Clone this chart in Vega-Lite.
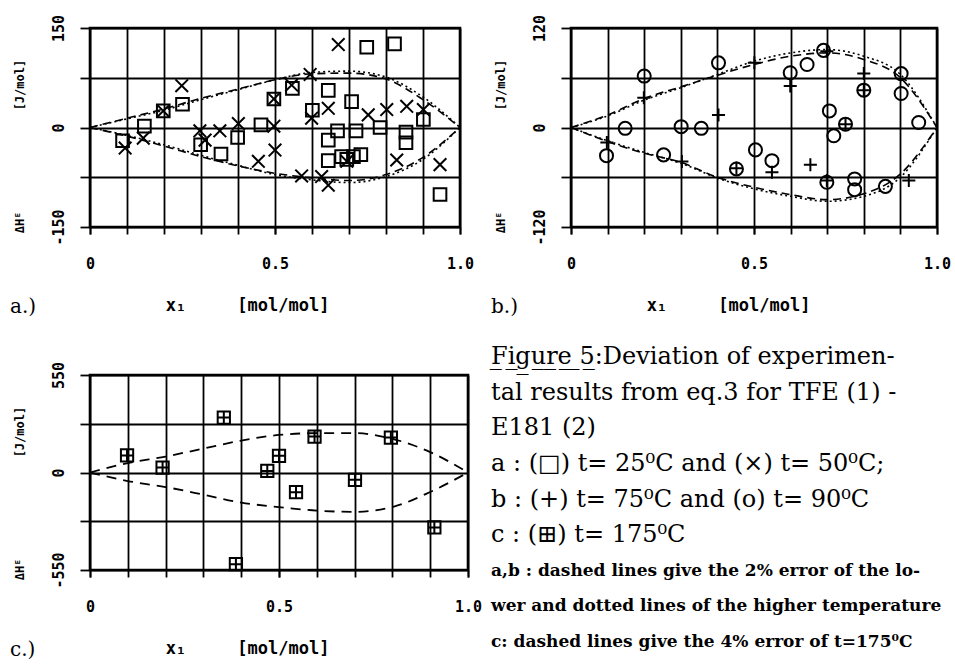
{
  "$schema": "https://vega.github.io/schema/vega-lite/v6.json",
  "background": "white",
  "padding": {"left": 8, "top": 13, "right": 0, "bottom": 0},
  "bounds": "full",
  "spacing": 26,
  "config": {
    "view": {"stroke": "black", "strokeWidth": 2.6},
    "axis": {
      "domain": false,
      "grid": true,
      "gridColor": "black",
      "gridWidth": 1.8,
      "gridOpacity": 1,
      "tickColor": "black",
      "tickWidth": 1.8,
      "labelOverlap": false,
      "labelFlush": false,
      "labelFont": "DejaVu Sans Mono",
      "labelFontWeight": "bold",
      "labelFontSize": 15,
      "labelColor": "black",
      "titleFont": "DejaVu Sans Mono",
      "titleFontWeight": "bold",
      "titleColor": "black"
    },
    "axisX": {
      "tickSize": 7,
      "labelAngle": 0,
      "labelBaseline": "middle",
      "labelPadding": 29,
      "titleFontSize": 17,
      "titleX": 157,
      "titleY": 78,
      "titleAlign": "center",
      "titleBaseline": "middle"
    },
    "axisY": {
      "tickSize": 10,
      "labelAngle": 270,
      "labelAlign": "center",
      "labelBaseline": "alphabetic",
      "labelPadding": 17,
      "titleFontSize": 12,
      "titleX": -71,
      "titleY": 118,
      "titleAngle": 270,
      "titleAlign": "center",
      "titleBaseline": "middle"
    },
    "title": {
      "font": "DejaVu Serif",
      "fontSize": 20,
      "fontWeight": "normal",
      "color": "black",
      "orient": "bottom",
      "anchor": "start",
      "frame": "group",
      "dx": -80,
      "offset": -16,
      "baseline": "middle"
    }
  },
  "datasets": {
    "a_pts": [
      {"x": 0.088, "y": -20, "t": "25 °C"}, {"x": 0.147, "y": 2, "t": "25 °C"}, {"x": 0.198, "y": 25, "t": "25 °C"},
      {"x": 0.25, "y": 35, "t": "25 °C"}, {"x": 0.299, "y": -26, "t": "25 °C"}, {"x": 0.354, "y": -40, "t": "25 °C"},
      {"x": 0.399, "y": -15, "t": "25 °C"}, {"x": 0.462, "y": 4, "t": "25 °C"}, {"x": 0.497, "y": 43, "t": "25 °C"},
      {"x": 0.547, "y": 59, "t": "25 °C"}, {"x": 0.601, "y": 26, "t": "25 °C"}, {"x": 0.644, "y": 56, "t": "25 °C"},
      {"x": 0.644, "y": -19, "t": "25 °C"}, {"x": 0.644, "y": -50, "t": "25 °C"}, {"x": 0.669, "y": -5, "t": "25 °C"},
      {"x": 0.68, "y": -44, "t": "25 °C"}, {"x": 0.694, "y": -48, "t": "25 °C"}, {"x": 0.712, "y": -44, "t": "25 °C"},
      {"x": 0.732, "y": -41, "t": "25 °C"}, {"x": 0.707, "y": 39, "t": "25 °C"}, {"x": 0.719, "y": -5, "t": "25 °C"},
      {"x": 0.748, "y": 121, "t": "25 °C"}, {"x": 0.784, "y": 0, "t": "25 °C"}, {"x": 0.823, "y": 126, "t": "25 °C"},
      {"x": 0.854, "y": -7, "t": "25 °C"}, {"x": 0.854, "y": -23, "t": "25 °C"}, {"x": 0.901, "y": 12, "t": "25 °C"},
      {"x": 0.946, "y": -101, "t": "25 °C"},
      {"x": 0.095, "y": -31, "t": "50 °C"}, {"x": 0.144, "y": -16, "t": "50 °C"}, {"x": 0.198, "y": 25, "t": "50 °C"},
      {"x": 0.248, "y": 63, "t": "50 °C"}, {"x": 0.297, "y": -5, "t": "50 °C"}, {"x": 0.311, "y": -19, "t": "50 °C"},
      {"x": 0.351, "y": -5, "t": "50 °C"}, {"x": 0.401, "y": 6, "t": "50 °C"}, {"x": 0.455, "y": -51, "t": "50 °C"},
      {"x": 0.497, "y": 43, "t": "50 °C"}, {"x": 0.497, "y": 2, "t": "50 °C"}, {"x": 0.5, "y": -34, "t": "50 °C"},
      {"x": 0.545, "y": 64, "t": "50 °C"}, {"x": 0.572, "y": -73, "t": "50 °C"}, {"x": 0.595, "y": 80, "t": "50 °C"},
      {"x": 0.599, "y": 14, "t": "50 °C"}, {"x": 0.626, "y": -74, "t": "50 °C"}, {"x": 0.644, "y": 29, "t": "50 °C"},
      {"x": 0.644, "y": -87, "t": "50 °C"}, {"x": 0.671, "y": 125, "t": "50 °C"}, {"x": 0.694, "y": -51, "t": "50 °C"},
      {"x": 0.752, "y": 19, "t": "50 °C"}, {"x": 0.802, "y": 27, "t": "50 °C"}, {"x": 0.829, "y": -49, "t": "50 °C"},
      {"x": 0.856, "y": 32, "t": "50 °C"}, {"x": 0.901, "y": 27, "t": "50 °C"}, {"x": 0.946, "y": -56, "t": "50 °C"}
    ],
    "a_lines": [
      {"x": 0, "y": 0, "t": "25 °C", "side": "upper"}, {"x": 0.1, "y": 14, "t": "25 °C", "side": "upper"},
      {"x": 0.2, "y": 28, "t": "25 °C", "side": "upper"}, {"x": 0.3, "y": 44, "t": "25 °C", "side": "upper"},
      {"x": 0.4, "y": 58, "t": "25 °C", "side": "upper"}, {"x": 0.5, "y": 72, "t": "25 °C", "side": "upper"},
      {"x": 0.6, "y": 81, "t": "25 °C", "side": "upper"}, {"x": 0.7, "y": 82, "t": "25 °C", "side": "upper"},
      {"x": 0.8, "y": 73, "t": "25 °C", "side": "upper"}, {"x": 0.9, "y": 42, "t": "25 °C", "side": "upper"},
      {"x": 1, "y": 0, "t": "25 °C", "side": "upper"},
      {"x": 0, "y": 0, "t": "25 °C", "side": "lower"}, {"x": 0.1, "y": -13, "t": "25 °C", "side": "lower"},
      {"x": 0.2, "y": -28, "t": "25 °C", "side": "lower"}, {"x": 0.3, "y": -44, "t": "25 °C", "side": "lower"},
      {"x": 0.4, "y": -58, "t": "25 °C", "side": "lower"}, {"x": 0.5, "y": -69, "t": "25 °C", "side": "lower"},
      {"x": 0.6, "y": -76, "t": "25 °C", "side": "lower"}, {"x": 0.7, "y": -80, "t": "25 °C", "side": "lower"},
      {"x": 0.8, "y": -71, "t": "25 °C", "side": "lower"}, {"x": 0.9, "y": -45, "t": "25 °C", "side": "lower"},
      {"x": 1, "y": 0, "t": "25 °C", "side": "lower"},
      {"x": 0, "y": 0, "t": "50 °C", "side": "upper"}, {"x": 0.1, "y": 13, "t": "50 °C", "side": "upper"},
      {"x": 0.2, "y": 26, "t": "50 °C", "side": "upper"}, {"x": 0.3, "y": 42, "t": "50 °C", "side": "upper"},
      {"x": 0.4, "y": 57, "t": "50 °C", "side": "upper"}, {"x": 0.5, "y": 72, "t": "50 °C", "side": "upper"},
      {"x": 0.6, "y": 83, "t": "50 °C", "side": "upper"}, {"x": 0.7, "y": 85, "t": "50 °C", "side": "upper"},
      {"x": 0.8, "y": 76, "t": "50 °C", "side": "upper"}, {"x": 0.9, "y": 46, "t": "50 °C", "side": "upper"},
      {"x": 1, "y": 0, "t": "50 °C", "side": "upper"},
      {"x": 0, "y": 0, "t": "50 °C", "side": "lower"}, {"x": 0.1, "y": -12, "t": "50 °C", "side": "lower"},
      {"x": 0.2, "y": -26, "t": "50 °C", "side": "lower"}, {"x": 0.3, "y": -42, "t": "50 °C", "side": "lower"},
      {"x": 0.4, "y": -57, "t": "50 °C", "side": "lower"}, {"x": 0.5, "y": -71, "t": "50 °C", "side": "lower"},
      {"x": 0.6, "y": -79, "t": "50 °C", "side": "lower"}, {"x": 0.7, "y": -83, "t": "50 °C", "side": "lower"},
      {"x": 0.8, "y": -74, "t": "50 °C", "side": "lower"}, {"x": 0.9, "y": -48, "t": "50 °C", "side": "lower"},
      {"x": 1, "y": 0, "t": "50 °C", "side": "lower"}
    ],
    "b_pts": [
      {"x": 0.097, "y": -34, "t": "90 °C"}, {"x": 0.148, "y": -1, "t": "90 °C"}, {"x": 0.2, "y": 62, "t": "90 °C"},
      {"x": 0.253, "y": -33, "t": "90 °C"}, {"x": 0.301, "y": 1, "t": "90 °C"}, {"x": 0.356, "y": -1, "t": "90 °C"},
      {"x": 0.403, "y": 78, "t": "90 °C"}, {"x": 0.452, "y": -50, "t": "90 °C"}, {"x": 0.504, "y": -27, "t": "90 °C"},
      {"x": 0.549, "y": -40, "t": "90 °C"}, {"x": 0.599, "y": 66, "t": "90 °C"}, {"x": 0.645, "y": 76, "t": "90 °C"},
      {"x": 0.69, "y": 93, "t": "90 °C"}, {"x": 0.699, "y": -66, "t": "90 °C"}, {"x": 0.706, "y": 20, "t": "90 °C"},
      {"x": 0.718, "y": -10, "t": "90 °C"}, {"x": 0.75, "y": 4, "t": "90 °C"}, {"x": 0.775, "y": -62, "t": "90 °C"},
      {"x": 0.775, "y": -75, "t": "90 °C"}, {"x": 0.8, "y": 45, "t": "90 °C"}, {"x": 0.859, "y": -71, "t": "90 °C"},
      {"x": 0.902, "y": 65, "t": "90 °C"}, {"x": 0.902, "y": 41, "t": "90 °C"}, {"x": 0.95, "y": 6, "t": "90 °C"},
      {"x": 0.098, "y": -18, "t": "75 °C"}, {"x": 0.199, "y": 36, "t": "75 °C"}, {"x": 0.303, "y": -41, "t": "75 °C"},
      {"x": 0.403, "y": 15, "t": "75 °C"}, {"x": 0.452, "y": -49, "t": "75 °C"}, {"x": 0.501, "y": 78, "t": "75 °C"},
      {"x": 0.549, "y": -54, "t": "75 °C"}, {"x": 0.599, "y": 50, "t": "75 °C"}, {"x": 0.654, "y": -45, "t": "75 °C"},
      {"x": 0.699, "y": 92, "t": "75 °C"}, {"x": 0.699, "y": -64, "t": "75 °C"}, {"x": 0.75, "y": 4, "t": "75 °C"},
      {"x": 0.8, "y": 65, "t": "75 °C"}, {"x": 0.8, "y": 45, "t": "75 °C"}, {"x": 0.923, "y": -64, "t": "75 °C"}
    ],
    "b_lines": [
      {"x": 0, "y": 0, "t": "75 °C", "side": "upper"}, {"x": 0.1, "y": 15, "t": "75 °C", "side": "upper"},
      {"x": 0.2, "y": 35, "t": "75 °C", "side": "upper"}, {"x": 0.3, "y": 49, "t": "75 °C", "side": "upper"},
      {"x": 0.4, "y": 63, "t": "75 °C", "side": "upper"}, {"x": 0.5, "y": 76, "t": "75 °C", "side": "upper"},
      {"x": 0.6, "y": 86, "t": "75 °C", "side": "upper"}, {"x": 0.7, "y": 90, "t": "75 °C", "side": "upper"},
      {"x": 0.8, "y": 82, "t": "75 °C", "side": "upper"}, {"x": 0.9, "y": 60, "t": "75 °C", "side": "upper"},
      {"x": 1, "y": 0, "t": "75 °C", "side": "upper"},
      {"x": 0, "y": 0, "t": "75 °C", "side": "lower"}, {"x": 0.1, "y": -17, "t": "75 °C", "side": "lower"},
      {"x": 0.2, "y": -31, "t": "75 °C", "side": "lower"}, {"x": 0.3, "y": -42, "t": "75 °C", "side": "lower"},
      {"x": 0.4, "y": -60, "t": "75 °C", "side": "lower"}, {"x": 0.5, "y": -72, "t": "75 °C", "side": "lower"},
      {"x": 0.6, "y": -81, "t": "75 °C", "side": "lower"}, {"x": 0.7, "y": -87, "t": "75 °C", "side": "lower"},
      {"x": 0.8, "y": -80, "t": "75 °C", "side": "lower"}, {"x": 0.9, "y": -56, "t": "75 °C", "side": "lower"},
      {"x": 1, "y": 0, "t": "75 °C", "side": "lower"},
      {"x": 0, "y": 0, "t": "90 °C", "side": "upper"}, {"x": 0.1, "y": 14, "t": "90 °C", "side": "upper"},
      {"x": 0.2, "y": 33, "t": "90 °C", "side": "upper"}, {"x": 0.3, "y": 48, "t": "90 °C", "side": "upper"},
      {"x": 0.4, "y": 64, "t": "90 °C", "side": "upper"}, {"x": 0.5, "y": 80, "t": "90 °C", "side": "upper"},
      {"x": 0.6, "y": 90, "t": "90 °C", "side": "upper"}, {"x": 0.7, "y": 94, "t": "90 °C", "side": "upper"},
      {"x": 0.8, "y": 86, "t": "90 °C", "side": "upper"}, {"x": 0.9, "y": 64, "t": "90 °C", "side": "upper"},
      {"x": 1, "y": 0, "t": "90 °C", "side": "upper"},
      {"x": 0, "y": 0, "t": "90 °C", "side": "lower"}, {"x": 0.1, "y": -16, "t": "90 °C", "side": "lower"},
      {"x": 0.2, "y": -30, "t": "90 °C", "side": "lower"}, {"x": 0.3, "y": -43, "t": "90 °C", "side": "lower"},
      {"x": 0.4, "y": -61, "t": "90 °C", "side": "lower"}, {"x": 0.5, "y": -74, "t": "90 °C", "side": "lower"},
      {"x": 0.6, "y": -83, "t": "90 °C", "side": "lower"}, {"x": 0.7, "y": -89, "t": "90 °C", "side": "lower"},
      {"x": 0.8, "y": -83, "t": "90 °C", "side": "lower"}, {"x": 0.9, "y": -60, "t": "90 °C", "side": "lower"},
      {"x": 1, "y": 0, "t": "90 °C", "side": "lower"}
    ],
    "c_pts": [
      {"x": 0.098, "y": 96}, {"x": 0.192, "y": 28}, {"x": 0.354, "y": 310}, {"x": 0.386, "y": -517},
      {"x": 0.469, "y": 9}, {"x": 0.5, "y": 94}, {"x": 0.545, "y": -111}, {"x": 0.594, "y": 203},
      {"x": 0.701, "y": -41}, {"x": 0.796, "y": 197}, {"x": 0.911, "y": -310}
    ],
    "c_lines": [
      {"x": 0, "y": 0, "side": "upper"}, {"x": 0.1, "y": 53, "side": "upper"}, {"x": 0.2, "y": 90, "side": "upper"},
      {"x": 0.3, "y": 135, "side": "upper"}, {"x": 0.4, "y": 180, "side": "upper"}, {"x": 0.5, "y": 212, "side": "upper"},
      {"x": 0.6, "y": 222, "side": "upper"}, {"x": 0.7, "y": 222, "side": "upper"}, {"x": 0.8, "y": 190, "side": "upper"},
      {"x": 0.9, "y": 115, "side": "upper"}, {"x": 1, "y": 0, "side": "upper"},
      {"x": 0, "y": 0, "side": "lower"}, {"x": 0.1, "y": -48, "side": "lower"}, {"x": 0.2, "y": -82, "side": "lower"},
      {"x": 0.3, "y": -125, "side": "lower"}, {"x": 0.4, "y": -170, "side": "lower"}, {"x": 0.5, "y": -195, "side": "lower"},
      {"x": 0.6, "y": -215, "side": "lower"}, {"x": 0.7, "y": -222, "side": "lower"}, {"x": 0.8, "y": -195, "side": "lower"},
      {"x": 0.9, "y": -110, "side": "lower"}, {"x": 1, "y": 0, "side": "lower"}
    ],
    "caption": [
      {"line": 0, "text": "F\u0332i\u0332g\u0332u\u0332r\u0332e\u0332 \u03325\u0332:Deviation of experimen-"},
      {"line": 1, "text": "tal results from eq.3 for TFE (1) -"},
      {"line": 2, "text": "E181 (2)"},
      {"line": 3, "text": "a : (□) t= 25⁰C and (×) t= 50⁰C;"},
      {"line": 4, "text": "b : (+) t= 75⁰C and (o) t= 90⁰C"},
      {"line": 5, "text": "c : (⊞) t= 175⁰C"},
      {"line": 6, "text": "a,b : dashed lines give the 2% error of the lo-"},
      {"line": 7, "text": "wer and dotted lines of the higher temperature"},
      {"line": 8, "text": "c: dashed lines give the 4% error of t=175⁰C"}
    ]
  },
  "vconcat": [
    {
      "bounds": "flush",
      "spacing": 111,
      "hconcat": [
        {
          "width": 370,
          "height": 199,
          "title": "a.)",
          "resolve": {"axis": {"x": "independent"}},
          "layer": [
            {
              "data": {"name": "a_lines"},
              "transform": [{"filter": "datum.t == '25 °C'"}],
              "mark": {"type": "line", "color": "black", "strokeWidth": 1.6, "strokeDash": [8, 5], "interpolate": "monotone"},
              "encoding": {
                "x": {"field": "x", "type": "quantitative", "scale": {"domain": [0, 1], "nice": false},
                  "axis": {"orient": "bottom", "values": [0, 0.1, 0.2, 0.3, 0.4, 0.5, 0.6, 0.7, 0.8, 0.9, 1], "labels": false, "title": null}},
                "y": {"field": "y", "type": "quantitative", "scale": {"domain": [-150, 150], "nice": false},
                  "axis": {"values": [-150, -75, 0, 75, 150], "labelOverlap": false,
                    "labelExpr": "datum.value == 150 ? '150' : datum.value == 0 ? '0' : datum.value == -150 ? '-150' : ''",
                    "title": "ΔHᴱ\u00a0\u00a0\u00a0\u00a0\u00a0\u00a0\u00a0\u00a0\u00a0\u00a0\u00a0\u00a0\u00a0\u00a0[J/mol]"}},
                "detail": {"field": "side"}
              }
            },
            {
              "data": {"name": "a_lines"},
              "transform": [{"filter": "datum.t == '50 °C'"}],
              "mark": {"type": "line", "color": "black", "strokeWidth": 1.6, "strokeDash": [2, 3], "interpolate": "monotone"},
              "encoding": {
                "x": {"field": "x", "type": "quantitative",
                  "axis": {"orient": "bottom", "values": [0, 0.5, 1], "grid": false,
                    "labelExpr": "datum.value == 1 ? '1.0' : datum.value == 0 ? '0' : '0.5'",
                    "title": "x₁\u00a0\u00a0\u00a0\u00a0\u00a0[mol/mol]"}},
                "y": {"field": "y", "type": "quantitative"},
                "detail": {"field": "side"}
              }
            },
            {
              "data": {"name": "a_pts"},
              "mark": {"type": "point", "filled": false, "color": "black", "strokeWidth": 2, "size": 160, "opacity": 1},
              "encoding": {
                "x": {"field": "x", "type": "quantitative", "axis": null},
                "y": {"field": "y", "type": "quantitative"},
                "shape": {"field": "t", "type": "nominal", "legend": null,
                  "scale": {"domain": ["25 °C", "50 °C", "75 °C", "90 °C"], "range": ["square", "M-1,-1L1,1M-1,1L1,-1", "M-1,0L1,0M0,-1L0,1", "circle"]}}
              }
            }
          ]
        },
        {
          "width": 366,
          "height": 199,
          "title": "b.)",
          "resolve": {"axis": {"x": "independent"}},
          "layer": [
            {
              "data": {"name": "b_lines"},
              "transform": [{"filter": "datum.t == '75 °C'"}],
              "mark": {"type": "line", "color": "black", "strokeWidth": 1.6, "strokeDash": [8, 5], "interpolate": "monotone"},
              "encoding": {
                "x": {"field": "x", "type": "quantitative", "scale": {"domain": [0, 1], "nice": false},
                  "axis": {"orient": "bottom", "values": [0, 0.1, 0.2, 0.3, 0.4, 0.5, 0.6, 0.7, 0.8, 0.9, 1], "labels": false, "title": null}},
                "y": {"field": "y", "type": "quantitative", "scale": {"domain": [-120, 120], "nice": false},
                  "axis": {"values": [-120, -60, 0, 60, 120], "labelOverlap": false,
                    "labelExpr": "datum.value == 120 ? '120' : datum.value == 0 ? '0' : datum.value == -120 ? '-120' : ''",
                    "title": "ΔHᴱ\u00a0\u00a0\u00a0\u00a0\u00a0\u00a0\u00a0\u00a0\u00a0\u00a0\u00a0\u00a0\u00a0\u00a0[J/mol]"}},
                "detail": {"field": "side"}
              }
            },
            {
              "data": {"name": "b_lines"},
              "transform": [{"filter": "datum.t == '90 °C'"}],
              "mark": {"type": "line", "color": "black", "strokeWidth": 1.6, "strokeDash": [2, 3], "interpolate": "monotone"},
              "encoding": {
                "x": {"field": "x", "type": "quantitative",
                  "axis": {"orient": "bottom", "values": [0, 0.5, 1], "grid": false,
                    "labelExpr": "datum.value == 1 ? '1.0' : datum.value == 0 ? '0' : '0.5'",
                    "title": "x₁\u00a0\u00a0\u00a0\u00a0\u00a0[mol/mol]"}},
                "y": {"field": "y", "type": "quantitative"},
                "detail": {"field": "side"}
              }
            },
            {
              "data": {"name": "b_pts"},
              "mark": {"type": "point", "filled": false, "color": "black", "strokeWidth": 2, "size": 170, "opacity": 1},
              "encoding": {
                "x": {"field": "x", "type": "quantitative", "axis": null},
                "y": {"field": "y", "type": "quantitative"},
                "shape": {"field": "t", "type": "nominal", "legend": null,
                  "scale": {"domain": ["25 °C", "50 °C", "75 °C", "90 °C"], "range": ["square", "M-1,-1L1,1M-1,1L1,-1", "M-1,0L1,0M0,-1L0,1", "circle"]}}
              }
            }
          ]
        }
      ]
    },
    {
      "bounds": "flush",
      "spacing": 23,
      "hconcat": [
        {
          "width": 378,
          "height": 195,
          "title": "c.)",
          "resolve": {"axis": {"x": "independent"}},
          "layer": [
            {
              "data": {"name": "c_lines"},
              "mark": {"type": "line", "color": "black", "strokeWidth": 1.8, "strokeDash": [10, 7], "interpolate": "monotone"},
              "encoding": {
                "x": {"field": "x", "type": "quantitative", "scale": {"domain": [0, 1], "nice": false},
                  "axis": {"orient": "bottom", "values": [0, 0.1, 0.2, 0.3, 0.4, 0.5, 0.6, 0.7, 0.8, 0.9, 1], "labels": false, "title": null}},
                "y": {"field": "y", "type": "quantitative", "scale": {"domain": [-550, 550], "nice": false},
                  "axis": {"values": [-550, -275, 0, 275, 550], "labelOverlap": false,
                    "labelExpr": "datum.value == 550 ? '550' : datum.value == 0 ? '0' : datum.value == -550 ? '-550' : ''",
                    "title": "ΔHᴱ\u00a0\u00a0\u00a0\u00a0\u00a0\u00a0\u00a0\u00a0\u00a0\u00a0\u00a0\u00a0\u00a0\u00a0[J/mol]"}},
                "detail": {"field": "side"}
              }
            },
            {
              "data": {"name": "c_pts"},
              "mark": {"type": "point", "filled": false, "color": "black", "strokeWidth": 2, "size": 150, "opacity": 1,
                "shape": "M-1,-1H1V1H-1ZM0,-1V1M-1,0H1"},
              "encoding": {
                "x": {"field": "x", "type": "quantitative",
                  "axis": {"orient": "bottom", "values": [0, 0.5, 1], "grid": false,
                    "labelExpr": "datum.value == 1 ? '1.0' : datum.value == 0 ? '0' : '0.5'",
                    "title": "x₁\u00a0\u00a0\u00a0\u00a0\u00a0[mol/mol]"}},
                "y": {"field": "y", "type": "quantitative"}
              }
            }
          ]
        },
        {
          "width": 464,
          "height": 267,
          "view": {"stroke": null},
          "data": {"name": "caption"},
          "layer": [
            {
              "transform": [{"filter": "datum.line < 6"}],
              "mark": {"type": "text", "align": "left", "baseline": "middle", "font": "DejaVu Serif", "fontSize": 24, "color": "black"},
              "encoding": {
                "x": {"datum": 0, "type": "quantitative", "scale": {"domain": [0, 1], "nice": false}, "axis": null},
                "y": {"field": "line", "type": "quantitative", "scale": {"domain": [0.5, 8], "reverse": true, "nice": false, "zero": false}, "axis": null},
                "text": {"field": "text"}
              }
            },
            {
              "transform": [{"filter": "datum.line >= 6"}],
              "mark": {"type": "text", "align": "left", "baseline": "middle", "font": "DejaVu Serif", "fontSize": 17, "fontWeight": "bold", "color": "black"},
              "encoding": {
                "x": {"datum": 0, "type": "quantitative"},
                "y": {"field": "line", "type": "quantitative"},
                "text": {"field": "text"}
              }
            }
          ]
        }
      ]
    }
  ]
}
